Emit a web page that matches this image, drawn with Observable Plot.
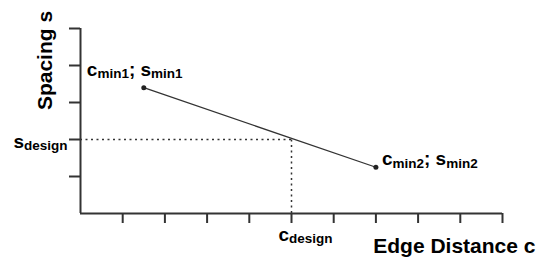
<!DOCTYPE html>
<html>
<head>
<meta charset="utf-8">
<script src="https://cdn.jsdelivr.net/npm/d3@7"></script>
<script src="https://cdn.jsdelivr.net/npm/@observablehq/plot@0.6"></script>
<style>
  html, body { margin: 0; padding: 0; background: #fff; }
  svg text { font-family: "Liberation Sans", Arial, sans-serif; }
</style>
</head>
<body>
<div id="chart"></div>
<script>
// Data
const edgeDistances = [1.5, 7];          // c_min1, c_min2
const spacings = [3.4, 1.25];            // s_min1, s_min2
const pointLabels = ["c_min1; s_min1", "c_min2; s_min2"];
const cDesign = 5;
const sDesign = 2;
const designLabels = ["c_design", "s_design"];
const xTicks = [1, 2, 3, 4, 5, 6, 7, 8, 9, 10];
const yTicks = [1, 2, 3, 4, 5];
const xTitle = "Edge Distance c";
const yTitle = "Spacing s";

const points = edgeDistances.map((c, i) => ({c, s: spacings[i], label: pointLabels[i]}));

const ink = "#333";
const chart = Plot.plot({
  width: 541,
  height: 257,
  marginLeft: 80,
  marginRight: 39,
  marginTop: 28,
  marginBottom: 44,
  x: {domain: [0, 10]},
  y: {domain: [0, 5]},
  style: {fontFamily: "'Liberation Sans', Arial, sans-serif", color: "#000", background: "#fff"},
  marks: [
    Plot.axisX({ticks: xTicks, tickSize: 10, tickFormat: () => "", label: null, stroke: ink, strokeWidth: 2}),
    Plot.axisY({ticks: yTicks, tickSize: 11, tickFormat: () => "", label: null, stroke: ink, strokeWidth: 2}),
    Plot.ruleY([0], {stroke: ink, strokeWidth: 2}),
    Plot.ruleX([0], {stroke: ink, strokeWidth: 2}),
    Plot.ruleY([sDesign], {x1: 0, x2: cDesign, stroke: ink, strokeWidth: 1.5, strokeDasharray: "2,3.5"}),
    Plot.ruleX([cDesign], {y1: 0, y2: sDesign, stroke: ink, strokeWidth: 1.5, strokeDasharray: "2,3.5"}),
    Plot.line(points, {x: "c", y: "s", stroke: ink, strokeWidth: 1.3}),
    Plot.dot(points, {x: "c", y: "s", r: 2.5, fill: "#222", stroke: null}),
    // point labels
    Plot.text([points[0]], {x: "c", y: "s", text: "label", textAnchor: "start", lineAnchor: "bottom", dx: -57, dy: -12, fontSize: 19, fontWeight: "bold", fill: "#000"}),
    Plot.text([points[1]], {x: "c", y: "s", text: "label", textAnchor: "start", lineAnchor: "bottom", dx: 6, dy: -2, fontSize: 19, fontWeight: "bold", fill: "#000"}),
    // design labels
    Plot.text([designLabels[0]], {x: () => cDesign, y: () => 0, text: d => d, textAnchor: "start", lineAnchor: "bottom", dx: -13, dy: 27, fontSize: 19, fontWeight: "bold", fill: "#000"}),
    Plot.text([designLabels[1]], {x: () => 0, y: () => sDesign, text: d => d, textAnchor: "end", lineAnchor: "bottom", dx: -13, dy: 8, fontSize: 19, fontWeight: "bold", fill: "#000"}),
    // axis titles
    Plot.text([xTitle], {frameAnchor: "bottom-right", text: d => d, textAnchor: "end", lineAnchor: "bottom", dx: 33, dy: 39, fontSize: 21, fontWeight: "bold", fill: "#000"}),
    Plot.text([yTitle], {frameAnchor: "top-left", text: d => d, rotate: -90, textAnchor: "middle", lineAnchor: "bottom", dx: -29, dy: 32, fontSize: 21, fontWeight: "bold", fill: "#000"})
  ]
});

// Convert "x_sub" notation into subscript tspans
chart.querySelectorAll("text").forEach(t => {
  const s = t.textContent;
  if (!s.includes("_")) return;
  const parts = s.split(/(_\w+)/).filter(p => p.length);
  t.textContent = "";
  const ns = "http://www.w3.org/2000/svg";
  let shifted = false;
  parts.forEach(p => {
    const ts = document.createElementNS(ns, "tspan");
    if (p.startsWith("_")) {
      ts.textContent = p.slice(1);
      ts.setAttribute("font-size", "13.5");
      ts.setAttribute("dy", "2.5");
      shifted = true;
    } else {
      ts.textContent = p;
      if (shifted) { ts.setAttribute("dy", "-2.5"); shifted = false; }
    }
    t.appendChild(ts);
  });
});

document.getElementById("chart").appendChild(chart);
</script>
</body>
</html>
